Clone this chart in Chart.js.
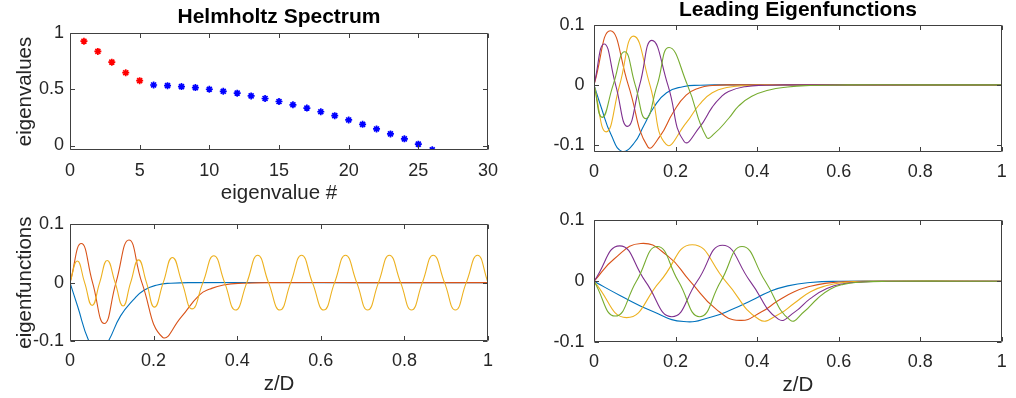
<!DOCTYPE html>
<html>
<head>
<meta charset="utf-8">
<script src="https://cdn.jsdelivr.net/npm/chart.js@4.4.0/dist/chart.umd.min.js"></script>
<style>
  html, body { margin: 0; padding: 0; background: #fff; }
  body { width: 1016px; height: 398px; position: relative; overflow: hidden; }
  canvas { position: absolute; }
</style>
</head>
<body>
<canvas id="spectrum" width="508" height="215" style="left:0;top:0"></canvas>
<canvas id="leading" width="508" height="215" style="left:508px;top:0"></canvas>
<canvas id="profiles" width="508" height="198" style="left:0;top:200px"></canvas>
<canvas id="modes" width="508" height="198" style="left:508px;top:200px"></canvas>
<script>
// Helmholtz spectrum (eigenvalue number / eigenvalue)
const eigIndex = [1, 2, 3, 4, 5, 6, 7, 8, 9, 10, 11, 12, 13, 14, 15, 16, 17, 18, 19, 20, 21, 22, 23, 24, 25, 26];
const eigValues = [0.927, 0.836, 0.741, 0.647, 0.576, 0.538, 0.532, 0.524, 0.515, 0.500, 0.482, 0.465, 0.441,
                   0.418, 0.391, 0.362, 0.333, 0.300, 0.265, 0.227, 0.188, 0.147, 0.103, 0.059, 0.012, -0.038];
const nLeading = 5;

// tick labels
const specXTicks = [0, 5, 10, 15, 20, 25, 30];
const specYTicks = [0, 0.5, 1];
const zTicks = [0, 0.2, 0.4, 0.6, 0.8, 1];
const fnTicks = [-0.1, 0, 0.1];

// leading eigenfunctions, [z/D, value]
const trBlue = [[0,0],[0.018,-0.038],[0.042,-0.083],[0.07,-0.111],[0.098,-0.097],[0.122,-0.068],[0.146,-0.038],
  [0.178,-0.013],[0.218,-0.003],[0.26,-0.0005],[0.32,0],[0.6,0],[1,0]];
const trOrange = [[0,0],[0.04,0.09],[0.084,0],[0.132,-0.103],[0.162,-0.085],[0.194,-0.046],[0.226,-0.017],
  [0.258,-0.005],[0.29,-0.001],[0.35,0],[0.6,0],[1,0]];
const trYellow = [[0,0],[0.03,-0.078],[0.063,0],[0.097,0.081],[0.137,0],[0.177,-0.099],[0.226,-0.063],
  [0.258,-0.033],[0.29,-0.013],[0.33,-0.004],[0.38,-0.001],[0.45,0],[0.7,0],[1,0]];
const trPurple = [[0,0],[0.025,0.068],[0.053,0],[0.082,-0.069],[0.112,0],[0.142,0.074],[0.181,0],[0.221,-0.094],
  [0.258,-0.071],[0.29,-0.037],[0.31,-0.021],[0.33,-0.011],[0.37,-0.003],[0.42,-0.0005],[0.5,0],[0.7,0],[1,0]];
const trGreen = [[0,0],[0.02,-0.054],[0.047,0],[0.075,0.055],[0.101,0],[0.127,-0.056],[0.155,0],[0.184,0.062],
  [0.229,0],[0.276,-0.087],[0.295,-0.081],[0.331,-0.055],[0.355,-0.035],[0.387,-0.019],[0.427,-0.009],
  [0.475,-0.0035],[0.53,-0.001],[0.62,0],[0.8,0],[1,0]];

// eigenfunctions (bottom left)
const blBlue = [[0,0],[0.018,-0.04],[0.045,-0.1],[0.068,-0.125],[0.092,-0.1],[0.121,-0.057],[0.152,-0.029],
  [0.177,-0.013],[0.209,-0.004],[0.241,-0.001],[0.3,0],[0.6,0],[1,0]];
const blOrange = [[0,0],[0.027,0.067],[0.054,0],[0.082,-0.07],[0.11,0],[0.141,0.073],[0.172,0],[0.222,-0.094],
  [0.265,-0.06],[0.31,-0.021],[0.335,-0.011],[0.367,-0.004],[0.415,-0.001],[0.5,0],[0.7,0],[1,0]];
const blYellow = [[0,0],[0.0175,0.037],[0.035,0],[0.053,-0.039],[0.071,0],[0.089,0.038],[0.108,0],[0.127,-0.04],
  [0.145,0],[0.164,0.039],[0.183,0],[0.202,-0.042],[0.223,0],[0.245,0.043],[0.268,0],[0.292,-0.045],[0.318,0],
  [0.344,0.046],[0.37,0],[0.396,-0.047],[0.423,0],[0.449,0.047],[0.475,0],[0.502,-0.047],[0.528,0],[0.554,0.047],
  [0.58,0],[0.607,-0.047],[0.633,0],[0.659,0.047],[0.686,0],[0.712,-0.047],[0.738,0],[0.764,0.047],[0.791,0],
  [0.817,-0.047],[0.843,0],[0.869,0.047],[0.896,0],[0.922,-0.047],[0.948,0],[0.975,0.047],[1,0]];

// eigenfunctions (bottom right)
const brBlue = [[0,0],[0.066,-0.024],[0.146,-0.05],[0.22,-0.066],[0.29,-0.058],[0.339,-0.046],[0.387,-0.031],
  [0.43,-0.017],[0.475,-0.0075],[0.53,-0.002],[0.6,0],[0.8,0],[1,0]];
const brOrange = [[0,0],[0.05,0.037],[0.115,0.062],[0.18,0.042],[0.236,0],[0.3,-0.046],[0.357,-0.064],[0.411,-0.05],
  [0.451,-0.032],[0.491,-0.017],[0.531,-0.008],[0.571,-0.003],[0.62,-0.0005],[0.7,0],[1,0]];
const brYellow = [[0,0],[0.08,-0.0595],[0.162,0],[0.241,0.06],[0.323,0],[0.405,-0.0626],[0.451,-0.055],
  [0.491,-0.036],[0.531,-0.017],[0.571,-0.007],[0.611,-0.002],[0.68,0],[1,0]];
const brPurple = [[0,0],[0.063,0.058],[0.126,0],[0.191,-0.058],[0.253,0],[0.315,0.059],[0.383,0],[0.452,-0.062],
  [0.491,-0.051],[0.531,-0.028],[0.571,-0.012],[0.611,-0.004],[0.66,-0.001],[0.72,0],[1,0]];
const brGreen = [[0,0],[0.052,-0.057],[0.104,0],[0.155,0.057],[0.207,0],[0.259,-0.058],[0.311,0],[0.363,0.057],
  [0.42,0],[0.481,-0.0637],[0.515,-0.05],[0.547,-0.029],[0.579,-0.013],[0.611,-0.005],[0.65,-0.0015],[0.72,0],[1,0]];

const COLORS = ['#0072BD', '#D95319', '#EDB120', '#7E2F8E', '#77AC30'];
const FONT = "'Liberation Sans', Arial, Helvetica, sans-serif";
const INK = '#262626';

// MATLAB style box with inward ticks on all four sides
const boxTicks = {
  id: 'boxTicks',
  afterDatasetsDraw(chart) {
    const { ctx, chartArea: a, scales: { x, y } } = chart;
    const L = 4.5;
    const l = Math.round(a.left) + 0.5, r = Math.round(a.right) - 0.5;
    const t = Math.round(a.top) + 0.5, b = Math.round(a.bottom) - 0.5;
    ctx.save();
    ctx.strokeStyle = '#404040';
    ctx.lineWidth = 1;
    ctx.beginPath();
    ctx.rect(l, t, r - l, b - t);
    x.ticks.forEach(tk => {
      const px = Math.round(x.getPixelForValue(tk.value)) + 0.5;
      ctx.moveTo(px, b); ctx.lineTo(px, b - L);
      ctx.moveTo(px, t); ctx.lineTo(px, t + L);
    });
    y.ticks.forEach(tk => {
      const py = Math.round(y.getPixelForValue(tk.value)) + 0.5;
      ctx.moveTo(l, py); ctx.lineTo(l + L, py);
      ctx.moveTo(r, py); ctx.lineTo(r - L, py);
    });
    ctx.stroke();
    ctx.restore();
  }
};

function scales(o) {
  return {
    x: {
      type: 'linear', min: o.xMin, max: o.xMax,
      grid: { display: false, drawTicks: false }, border: { display: false },
      afterBuildTicks: s => { s.ticks = o.xTicks.map(v => ({ value: v })); },
      afterFit: s => { s.height = o.xHeight; },
      ticks: { padding: o.xPad, color: INK, autoSkip: false, maxRotation: 0,
               font: { family: FONT, size: 18 }, callback: v => String(v) },
      title: o.xTitle ? { display: true, text: o.xTitle, color: INK,
               font: { family: FONT, size: 20.5 }, padding: { top: 0, bottom: o.xTitlePad } } : { display: false }
    },
    y: {
      type: 'linear', min: o.yMin, max: o.yMax,
      grid: { display: false, drawTicks: false }, border: { display: false },
      afterBuildTicks: s => { s.ticks = o.yTicks.map(v => ({ value: v })); },
      afterFit: s => { s.width = o.yWidth; },
      ticks: { padding: o.yPad, color: INK, autoSkip: false,
               font: { family: FONT, size: 18 }, callback: v => String(v) },
      title: o.yTitle ? { display: true, text: o.yTitle, color: INK,
               font: { family: FONT, size: 20.5 }, padding: { top: 12.7, bottom: 0 } } : { display: false }
    }
  };
}

function titleOpts(text, padTop, padBottom) {
  return { display: true, text: text, color: '#000', fullSize: false,
           font: { family: FONT, size: 21, weight: 'bold', lineHeight: 1.0 },
           padding: { top: padTop, bottom: padBottom } };
}

function lineSets(curves) {
  return curves.map((pts, i) => ({
    data: pts.map(p => ({ x: p[0], y: p[1] })),
    borderColor: COLORS[i], borderWidth: 1.1, pointRadius: 0,
    tension: 0.5, fill: false, order: curves.length - i
  }));
}

const base = {
  responsive: false, animation: false, events: [],
  plugins: { legend: { display: false }, tooltip: { enabled: false } }
};

new Chart(document.getElementById('spectrum'), {
  type: 'scatter',
  data: {
    datasets: [
      { data: eigIndex.slice(0, nLeading).map((n, i) => ({ x: n, y: eigValues[i] })),
        pointStyle: 'star', pointRadius: 3.5, borderWidth: 1.7, borderColor: '#ff0000', backgroundColor: '#ff0000' },
      { data: eigIndex.slice(nLeading).map((n, i) => ({ x: n, y: eigValues[i + nLeading] })),
        pointStyle: 'star', pointRadius: 3.5, borderWidth: 1.7, borderColor: '#0000ff', backgroundColor: '#0000ff' }
    ]
  },
  options: {
    ...base,
    layout: { padding: { left: 0, right: 20, top: 0, bottom: 0 } },
    plugins: { ...base.plugins, title: titleOpts('Helmholtz Spectrum', 7, 5) },
    scales: scales({ xMin: 0, xMax: 30, xTicks: specXTicks, xHeight: 65, xPad: 9.9,
                     xTitle: 'eigenvalue #', xTitlePad: 9.7,
                     yMin: -0.04, yMax: 1, yTicks: specYTicks, yWidth: 70, yPad: 6, yTitle: 'eigenvalues' })
  },
  plugins: [boxTicks]
});

new Chart(document.getElementById('leading'), {
  type: 'line',
  data: { datasets: lineSets([trBlue, trOrange, trYellow, trPurple, trGreen]) },
  options: {
    ...base,
    layout: { padding: { left: 0, right: 6.5, top: 0, bottom: 0 } },
    plugins: { ...base.plugins, title: titleOpts('Leading Eigenfunctions', 0, 3.7) },
    scales: scales({ xMin: 0, xMax: 1, xTicks: zTicks, xHeight: 63.3, xPad: 9.2,
                     yMin: -0.111, yMax: 0.1, yTicks: fnTicks, yWidth: 86, yPad: 9.5 })
  },
  plugins: [boxTicks]
});

new Chart(document.getElementById('profiles'), {
  type: 'line',
  data: { datasets: lineSets([blBlue, blOrange, blYellow]) },
  options: {
    ...base,
    layout: { padding: { left: 0, right: 20, top: 24.3, bottom: 0 } },
    scales: scales({ xMin: 0, xMax: 1, xTicks: zTicks, xHeight: 57, xPad: 8.9,
                     xTitle: 'z/D', xTitlePad: 1.7,
                     yMin: -0.1, yMax: 0.1, yTicks: fnTicks, yWidth: 70, yPad: 6, yTitle: 'eigenfunctions' })
  },
  plugins: [boxTicks]
});

new Chart(document.getElementById('modes'), {
  type: 'line',
  data: { datasets: lineSets([brBlue, brOrange, brYellow, brPurple, brGreen]) },
  options: {
    ...base,
    layout: { padding: { left: 0, right: 6.5, top: 15, bottom: 0 } },
    scales: scales({ xMin: 0, xMax: 1, xTicks: zTicks, xHeight: 55.7, xPad: 9.2,
                     xTitle: 'z/D', xTitlePad: 0.7,
                     yMin: -0.1, yMax: 0.1, yTicks: fnTicks, yWidth: 86, yPad: 9.5 })
  },
  plugins: [boxTicks]
});
</script>
</body>
</html>
